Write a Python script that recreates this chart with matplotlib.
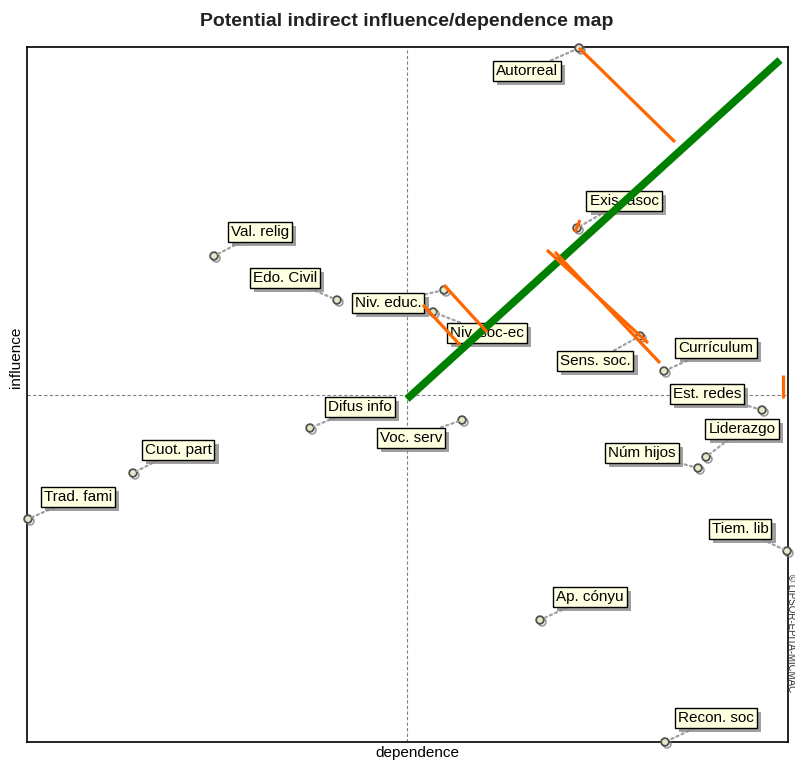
import matplotlib
matplotlib.use("Agg")
import matplotlib.pyplot as plt
import matplotlib.patheffects as pe

plt.rcParams['font.family'] = ['Liberation Sans', 'DejaVu Sans']

# ---- data (arbitrary map units: dependence x, influence y) ----
names = ["Autorreal", "Exis. asoc", "Val. relig", "Edo. Civil", "Niv. educ.",
         "Niv. soc-ec", "Sens. soc.", "Currículum", "Est. redes", "Liderazgo",
         "Núm hijos", "Tiem. lib", "Ap. cónyu", "Recon. soc", "Difus info",
         "Voc. serv", "Cuot. part", "Trad. fami"]
dependence = [552, 550, 187, 310, 417, 406, 613, 637, 735, 679,
              671, 760, 513, 638, 283, 435, 106, 1]
influence = [694, 514, 486, 442, 452, 430, 406, 371, 332, 285,
             274, 191, 122, 0, 314, 322, 269, 223]

# displacement segments (orange): start x, start y, end x, end y
seg_x0 = [552, 548, 520, 528, 417, 396, 756]
seg_y0 = [694, 510, 492, 490, 457, 437, 367]
seg_x1 = [648, 553, 621, 633, 460, 433, 756]
seg_y1 = [600, 522, 399, 379, 410, 397, 344]

# main diagonal (green)
diag_x = [380, 753]
diag_y = [343, 682]

x_max, y_max = 761, 695
x_mid, y_mid = 380, 347

# label offsets in pixels (layout)
label_offsets = [(-52, -23), (47, 27), (46, 24), (-52, 22), (-56, -13),
                 (54, -21), (-45, -25), (52, 23), (-55, 16), (36, 28),
                 (-56, 15), (-47, 22), (50, 23), (51, 24), (50, 21),
                 (-51, -18), (45, 23), (50, 22)]

W, H = 795, 762
fig = plt.figure(figsize=(W / 100, H / 100), dpi=100)
ax = fig.add_axes([27 / W, 1 - 742 / H, (788 - 27) / W, (742 - 47) / H])
ax.set_xlim(0, x_max)
ax.set_ylim(0, y_max)
ax.set_xticks([])
ax.set_yticks([])
for s in ax.spines.values():
    s.set_color('black')
    s.set_linewidth(1.2)

ax.axvline(x_mid, color='#808080', lw=0.8, ls=(0, (3, 2)), zorder=1)
ax.axhline(y_mid, color='#808080', lw=0.8, ls=(0, (3, 2)), zorder=1)

ax.plot(diag_x, diag_y, color='#008000', lw=5.5, solid_capstyle='butt', zorder=9)
for a, b, c, d in zip(seg_x0, seg_y0, seg_x1, seg_y1):
    ax.plot([a, c], [b, d], color='#FF6600', lw=2.3, solid_capstyle='butt', zorder=10)

shadow = [pe.SimplePatchShadow(offset=(3, -3), shadow_rgbFace='#888888', alpha=0.8), pe.Normal()]
for n, x, y, off in zip(names, dependence, influence, label_offsets):
    ax.plot([x], [y], marker='o', ms=5.5, mfc='#E8E8C8', mec='#505050', mew=1.3,
            zorder=6, clip_on=False,
            path_effects=[pe.SimpleLineShadow(offset=(1.5, -1.5), shadow_color='#777777', alpha=0.7), pe.Normal()])
    t = ax.annotate(n, xy=(x, y), xytext=off, textcoords='offset pixels',
                    ha='center', va='center', fontsize=11, color='black', zorder=7,
                    annotation_clip=False,
                    bbox=dict(boxstyle='square,pad=0.2', fc='#FFFFE1', ec='black', lw=1.0),
                    arrowprops=dict(arrowstyle='-', ls=(0, (1, 1.5)), color='#A0A0A0', lw=1.6,
                                    shrinkA=0, shrinkB=3))
    t.get_bbox_patch().set_path_effects(shadow)

fig.text(407 / W, 1 - 21 / H, "Potential indirect influence/dependence map",
         ha='center', va='center', fontsize=14, fontweight='bold', color='#222222')
fig.text(417 / W, 1 - 753 / H, "dependence", ha='center', va='center', fontsize=11)
fig.text(16 / W, 1 - 357 / H, "influence", ha='center', va='center', fontsize=11, rotation=90)
fig.text(790.5 / W, 1 - 574 / H, "© LIPSOR-EPITA-MICMAC", ha='center', va='top',
         fontsize=7, rotation=270, color='#333333')

fig.savefig("out.png", dpi=100)
